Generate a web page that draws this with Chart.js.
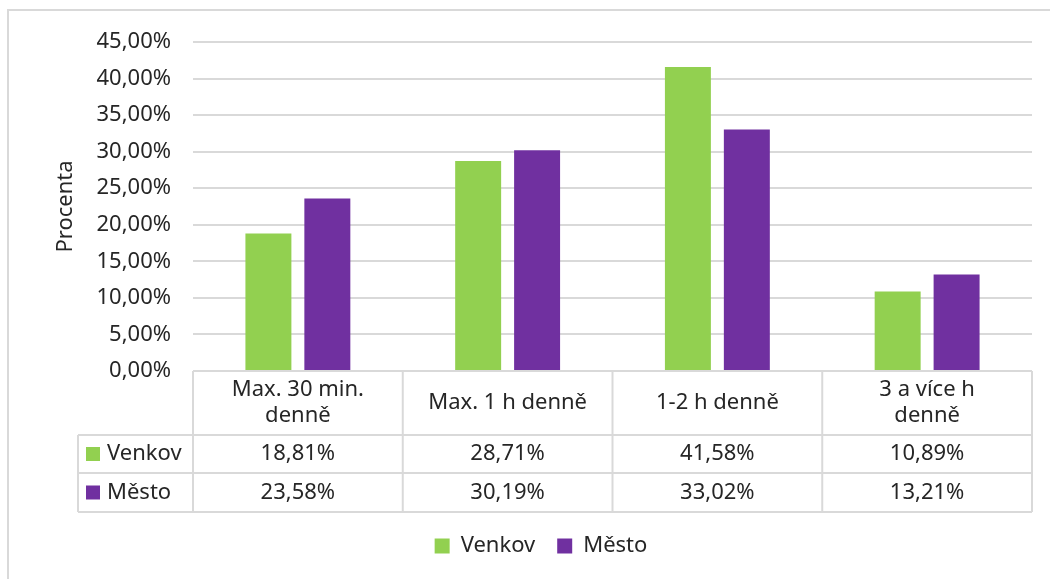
<!DOCTYPE html>
<html>
<head>
<meta charset="utf-8">
<script src="https://cdn.jsdelivr.net/npm/chart.js@4"></script>
<style>
  html, body { margin: 0; padding: 0; background: #fff; }
  #wrap { width: 1050px; height: 579px; position: relative; }
</style>
</head>
<body>
<div id="wrap"><canvas id="chart"></canvas></div>
<script>
// ── data ─────────────────────────────────────────────
const categories = [['Max. 30 min.', 'denně'], 'Max. 1 h denně', '1-2 h denně', ['3 a více h', 'denně']];
const venkov = [18.81, 28.71, 41.58, 10.89];
const mesto  = [23.58, 30.19, 33.02, 13.21];
const seriesNames = ['Venkov', 'Město'];
const seriesColors = ['#92D050', '#7030A0'];

const FONT = '"Noto Sans", sans-serif';
const FS = 22;
const TXT = '#262626';
const LINE = '#d9d9d9';

const pct = v => v.toFixed(2).replace('.', ',') + '%';

// ── data table under the plot + outer frame ───────────
const dataTable = {
  id: 'dataTable',
  afterDraw(chart) {
    const { ctx, chartArea: a, scales: { x } } = chart;
    const rowTop = a.bottom, hdrBot = a.bottom + 64, r1 = hdrBot + 38, r2 = r1 + 39;
    const labLeft = a.left - 115;
    const step = x.getPixelForValue(1) - x.getPixelForValue(0);
    ctx.save();
    ctx.strokeStyle = LINE;
    ctx.lineWidth = 2;
    ctx.beginPath();
    // outer frame
    ctx.moveTo(8, chart.height); ctx.lineTo(8, 10); ctx.lineTo(chart.width, 10);
    // horizontal lines
    ctx.moveTo(a.left, rowTop); ctx.lineTo(a.right, rowTop);
    [hdrBot, r1, r2].forEach(y => { ctx.moveTo(labLeft, y); ctx.lineTo(a.right, y); });
    // vertical lines
    ctx.moveTo(labLeft, hdrBot); ctx.lineTo(labLeft, r2);
    for (let i = 0; i <= categories.length; i++) {
      const px = x.getPixelForValue(0) - step / 2 + i * step;
      ctx.moveTo(px, rowTop); ctx.lineTo(px, r2);
    }
    ctx.stroke();

    ctx.fillStyle = TXT;
    ctx.font = FS + 'px ' + FONT;
    ctx.textAlign = 'center';
    ctx.textBaseline = 'middle';
    categories.forEach((c, i) => {
      const cx = x.getPixelForValue(i);
      const lines = Array.isArray(c) ? c : [c];
      const mid = (rowTop + hdrBot) / 2;
      lines.forEach((t, j) => ctx.fillText(t, cx, mid + (j - (lines.length - 1) / 2) * 26));
      ctx.fillText(pct(venkov[i]), cx, (hdrBot + r1) / 2);
      ctx.fillText(pct(mesto[i]), cx, (r1 + r2) / 2);
    });
    // row labels with colour keys
    ctx.textAlign = 'left';
    [(hdrBot + r1) / 2, (r1 + r2) / 2].forEach((y, k) => {
      ctx.fillStyle = seriesColors[k];
      ctx.fillRect(labLeft + 8, y - 7, 14, 14);
      ctx.fillStyle = TXT;
      ctx.fillText(seriesNames[k], labLeft + 29, y);
    });
    ctx.restore();
  }
};

new Chart(document.getElementById('chart'), {
  type: 'bar',
  data: {
    labels: categories,
    datasets: [
      { label: seriesNames[0], data: venkov, backgroundColor: seriesColors[0] },
      { label: seriesNames[1], data: mesto,  backgroundColor: seriesColors[1] }
    ]
  },
  options: {
    responsive: true,
    maintainAspectRatio: false,
    animation: false,
    layout: { padding: { left: 50, right: 18, top: 42, bottom: 12 } },
    datasets: { bar: { categoryPercentage: 0.562, barPercentage: 0.78 } },
    plugins: {
      legend: {
        position: 'bottom',
        labels: { font: { family: FONT, size: FS }, color: TXT, boxWidth: 15, boxHeight: 15, padding: 22 }
      },
      tooltip: { enabled: false }
    },
    scales: {
      x: {
        grid: { display: false },
        border: { display: false },
        ticks: { display: false },
        afterFit: s => { s.height = 142; }
      },
      y: {
        min: 0, max: 45,
        ticks: {
          stepSize: 5,
          callback: v => pct(v),
          font: { family: FONT, size: FS },
          color: TXT,
          padding: 22
        },
        grid: { color: LINE, lineWidth: 2, drawTicks: false },
        border: { display: false },
        title: {
          display: true, text: 'Procenta',
          font: { family: FONT, size: FS }, color: TXT,
          padding: { top: 3, bottom: 0 }
        },
        afterFit: s => { s.width = 143; }
      }
    }
  },
  plugins: [dataTable]
});
</script>
</body>
</html>
